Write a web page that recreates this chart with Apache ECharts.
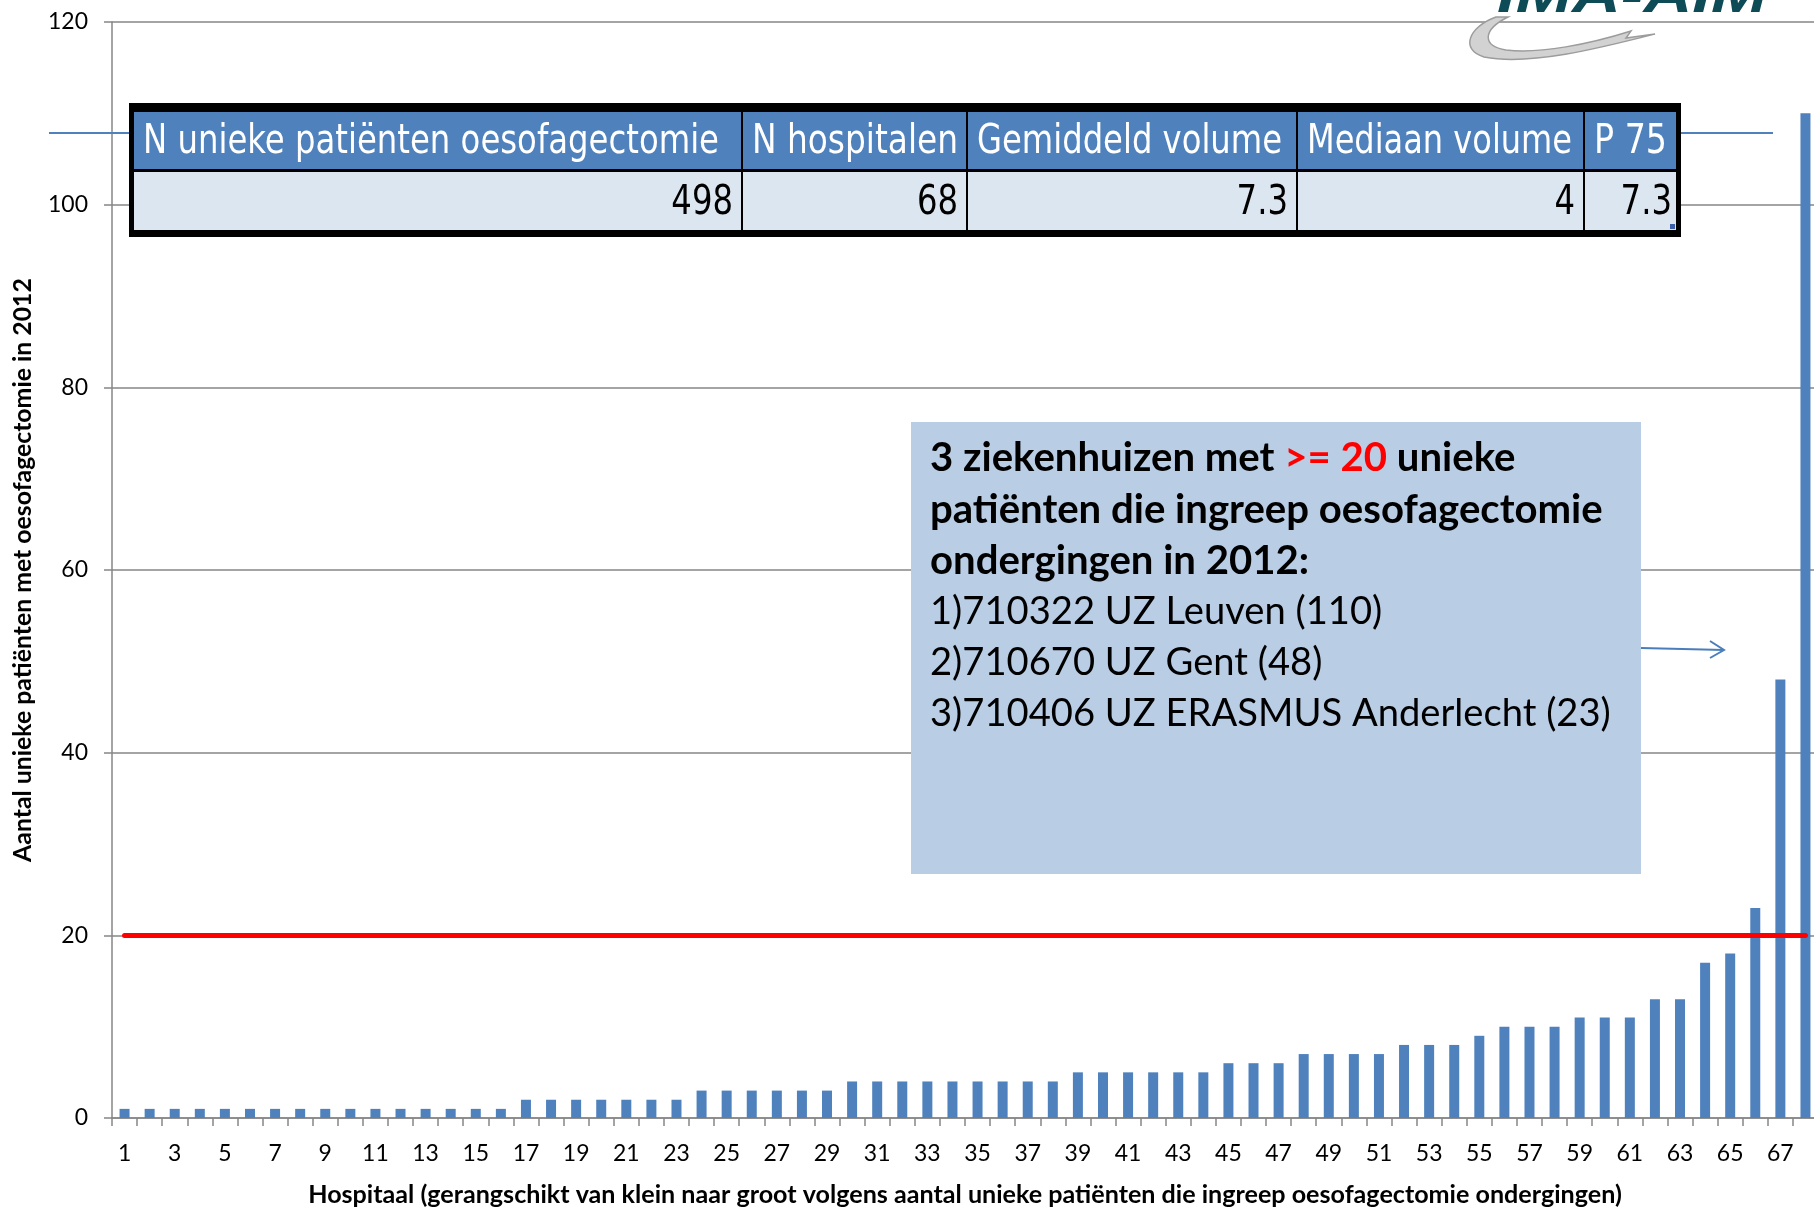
<!DOCTYPE html>
<html><head><meta charset="utf-8">
<script src="https://cdn.jsdelivr.net/npm/echarts@6/dist/echarts.min.js"></script>
<style>html,body{margin:0;padding:0;background:#fff}#c{width:1814px;height:1207px}</style>
</head><body><div id="c"></div>
<script>
// ---------- DATA ----------
const hospitals = ['1','2','3','4','5','6','7','8','9','10','11','12','13','14','15','16','17','18','19','20',
  '21','22','23','24','25','26','27','28','29','30','31','32','33','34','35','36','37','38','39','40',
  '41','42','43','44','45','46','47','48','49','50','51','52','53','54','55','56','57','58','59','60',
  '61','62','63','64','65','66','67','68'];
const patients = [1,1,1,1,1,1,1,1,1,1,1,1,1,1,1,1,
  2,2,2,2,2,2,2,
  3,3,3,3,3,3,
  4,4,4,4,4,4,4,4,4,
  5,5,5,5,5,5,
  6,6,6,
  7,7,7,7,
  8,8,8,
  9,
  10,10,10,
  11,11,11,
  13,13,
  17,18,23,48,110];
const yMin = 0, yMax = 120, yInterval = 20;
const threshold = 20;
const tableHeaders = ['N unieke patiënten oesofagectomie','N hospitalen','Gemiddeld volume','Mediaan volume','P 75'];
const tableValues = ['498','68','7.3','4','7.3'];
const noteTitle = ['3 ziekenhuizen met ', '>= 20', ' unieke'];
const noteBold = ['patiënten die ingreep oesofagectomie', 'ondergingen in 2012:'];
const noteList = ['1)710322 UZ Leuven (110)', '2)710670 UZ Gent (48)', '3)710406 UZ ERASMUS Anderlecht (23)'];
const xName = 'Hospitaal (gerangschikt van klein naar groot volgens aantal unieke patiënten die ingreep oesofagectomie ondergingen)';
const yName = 'Aantal unieke patiënten met oesofagectomie in 2012';
const logoText = 'IMA-AIM';

// ---------- measuring helpers ----------
const ctx = document.createElement('canvas').getContext('2d');
function measure(font, text){ ctx.font = font; return ctx.measureText(text).width; }
function fit(weight, family, text, target){ return 100 * target / measure(weight + ' 100px ' + family, text); }

const FF = 'Lato';
const tickSize = fit('normal', FF, '120', 40);
const xNameSize = fit('bold', FF, xName, 1314);
const yNameSize = fit('bold', FF, yName, 584);
const noteBoldSize = fit('bold', FF, noteBold[0], 673);
const noteRegSize = fit('normal', FF, noteList[2], 681);

// custom swoosh shape for the logo
const Swoosh = echarts.graphic.extendPath(
  'M1496,17 C1468,27 1460,50 1484,57 C1530,66 1600,48 1655,34 L1626,38 L1631,31 C1590,44 1540,54 1506,50 C1482,46 1482,30 1508,17 Z', {});
echarts.graphic.registerShape('swoosh', Swoosh);

// table geometry
const tblFont = "'DejaVu Sans','Liberation Sans',sans-serif";
const tblSize = 41;
const colEdges = [134, 742, 967, 1297, 1584, 1676];
const headerTargets = [576, 206, 305, 265, 73];
const graphics = [];
graphics.push({type:'rect', shape:{x:129,y:103,width:1552,height:134}, style:{fill:'#000'}, z:10});
for (let i = 0; i < 5; i++) {
  const x0 = colEdges[i] + (i === 0 ? 0 : 1), x1 = colEdges[i+1] - (i === 4 ? 0 : 1);
  graphics.push({type:'rect', shape:{x:x0,y:112,width:x1-x0,height:57}, style:{fill:'#4f81bd'}, z:11});
  graphics.push({type:'rect', shape:{x:x0,y:172,width:x1-x0,height:58}, style:{fill:'#dce6f1'}, z:11});
  const w = measure(tblSize + 'px ' + tblFont, tableHeaders[i]);
  graphics.push({type:'text', x:x0+9, y:142, scaleX: headerTargets[i]/w, z:12,
    style:{text:tableHeaders[i], fill:'#fff', font: tblSize + 'px ' + tblFont, align:'left', verticalAlign:'middle'}});
}
const valScale = headerTargets[0] / measure(tblSize + 'px ' + tblFont, tableHeaders[0]);
for (let i = 0; i < 5; i++) {
  const xr = colEdges[i+1] - (i === 4 ? 4 : 9);
  graphics.push({type:'text', x:xr, y:203, scaleX: valScale, z:12,
    style:{text:tableValues[i], fill:'#000', font: tblSize + 'px ' + tblFont, align:'right', verticalAlign:'middle'}});
}
graphics.push({type:'rect', shape:{x:1670,y:224,width:5,height:5}, style:{fill:'#3b5fa8'}, z:12});
// blue lines beside table
graphics.push({type:'line', shape:{x1:49,y1:133,x2:129,y2:133}, style:{stroke:'#4f81bd', lineWidth:2}, z:9});
graphics.push({type:'line', shape:{x1:1681,y1:133,x2:1773,y2:133}, style:{stroke:'#4f81bd', lineWidth:2}, z:9});

// annotation box
graphics.push({type:'rect', shape:{x:911,y:422,width:730,height:452}, style:{fill:'#b9cde5'}, z:10});
const lineYs = [458, 510, 561, 612, 663, 714];
graphics.push({type:'text', x:930, y:lineYs[0], z:12, style:{
  text: '{b|' + noteTitle[0] + '}{r|' + noteTitle[1] + '}{b|' + noteTitle[2] + '}',
  verticalAlign:'middle', align:'left',
  rich:{ b:{fontFamily:FF, fontWeight:'bold', fontSize:noteBoldSize, fill:'#000', color:'#000'},
         r:{fontFamily:FF, fontWeight:'bold', fontSize:noteBoldSize, fill:'#ff0000', color:'#ff0000'} }
}});
noteBold.forEach((t, i) => graphics.push({type:'text', x:930, y:lineYs[1+i], z:12,
  style:{text:t, fill:'#000', font:'bold ' + noteBoldSize + 'px ' + FF, verticalAlign:'middle', align:'left'}}));
noteList.forEach((t, i) => graphics.push({type:'text', x:930, y:lineYs[3+i], z:12,
  style:{text:t, fill:'#000', font:noteRegSize + 'px ' + FF, verticalAlign:'middle', align:'left'}}));
// arrow
graphics.push({type:'line', shape:{x1:1641,y1:648,x2:1724,y2:650}, style:{stroke:'#4a7ebb', lineWidth:2}, z:12});
graphics.push({type:'polyline', shape:{points:[[1710,641],[1724,650],[1710,658]]}, style:{stroke:'#4a7ebb', lineWidth:2, fill:null}, z:12});

// logo
graphics.push({type:'swoosh', style:{fill:'#d2d2d2', stroke:'#9c9c9c', lineWidth:1.5}, z:1});
graphics.push({type:'text', x:1497, y:24, scaleX:1.3, z:1,
  style:{text:logoText, fill:'#0d4b57', font:'italic bold 52px "Liberation Sans"', align:'left', verticalAlign:'bottom'}});

const gray = '#868686';
const chart = echarts.init(document.getElementById('c'), null, {renderer:'canvas'});
chart.setOption({
  animation:false,
  backgroundColor:'#fff',
  grid:{left:112, top:22, right:-4, bottom:89, containLabel:false, outerBoundsMode:'none'},
  xAxis:{
    type:'category', data:hospitals, boundaryGap:true,
    axisLine:{show:true, lineStyle:{color:gray, width:1.5}},
    axisTick:{show:true, interval:0, length:8, lineStyle:{color:gray, width:1.5}},
    axisLabel:{interval:1, fontFamily:FF, fontSize:tickSize, color:'#000', margin:24},
    name:xName, nameLocation:'middle', nameGap:64,
    nameTextStyle:{fontFamily:FF, fontWeight:'bold', fontSize:xNameSize, color:'#000'},
    splitLine:{show:false}
  },
  yAxis:{
    type:'value', min:yMin, max:yMax, interval:yInterval,
    axisLine:{show:true, lineStyle:{color:gray, width:1.5}},
    axisTick:{show:true, length:8, lineStyle:{color:gray, width:1.5}},
    axisLabel:{fontFamily:FF, fontSize:tickSize, color:'#000', margin:24},
    splitLine:{show:true, lineStyle:{color:gray, width:1.5}},
    name:yName, nameLocation:'middle', nameGap:77, nameRotate:90,
    nameTextStyle:{fontFamily:FF, fontWeight:'bold', fontSize:yNameSize, color:'#000'}
  },
  series:[{
    type:'bar', data:patients, barWidth:10,
    itemStyle:{color:'#4f81bd'},
    z:2,
    markLine:{
      silent:true, symbol:'none', z:5,
      label:{show:false},
      lineStyle:{color:'#ff0000', width:5, type:'solid', cap:'round'},
      emphasis:{disabled:true},
      data:[[{coord:[hospitals[0], threshold]},{coord:[hospitals[hospitals.length-1], threshold]}]]
    }
  }],
  graphic:graphics
});
</script>
</body></html>
